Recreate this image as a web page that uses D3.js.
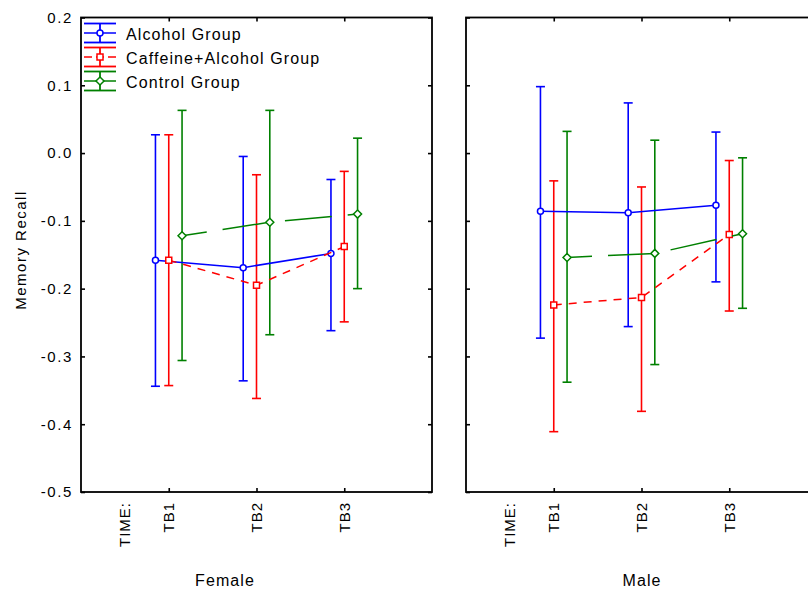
<!DOCTYPE HTML>
<html lang="en">
<head>
<meta charset="utf-8" />
<title>Memory Recall by Time</title>
<style>
  body { margin: 0; background: #fff; }
  text { font-family: "Liberation Sans", Arial, sans-serif; fill: #000; }
</style>
</head>
<body>
<script src="https://d3js.org/d3.v7.min.js"></script>
<script>
  // data
  const timeLabels = ["TB1", "TB2", "TB3"];
  const groups = ["Alcohol Group", "Caffeine+Alcohol Group", "Control Group"];
  const panels = ["Female", "Male"];
  const yTicks = [0.2, 0.1, 0.0, -0.1, -0.2, -0.3, -0.4, -0.5];

  // rows: alcohol, caffeine+alcohol, control
  const femaleMean  = [[-0.158, -0.169, -0.148], [-0.158, -0.195, -0.138], [-0.122, -0.102, -0.090]];
  const femaleUpper = [[0.027, -0.005, -0.039], [0.027, -0.032, -0.027], [0.063, 0.063, 0.022]];
  const femaleLower = [[-0.344, -0.336, -0.262], [-0.343, -0.362, -0.249], [-0.306, -0.268, -0.200]];
  const maleMean  = [[-0.086, -0.088, -0.077], [-0.224, -0.213, -0.120], [-0.154, -0.148, -0.119]];
  const maleUpper = [[0.098, 0.074, 0.031], [-0.041, -0.050, -0.011], [0.032, 0.019, -0.007]];
  const maleLower = [[-0.273, -0.256, -0.190], [-0.411, -0.381, -0.233], [-0.338, -0.312, -0.229]];

  const colors = ["#0000ff", "#ff0000", "#008000"];
  const dashes = [null, "8,7", "47,16"];
  const dashOffsets = [0, 0, 22];
  const groupShift = [-13.3, 0, 13.3];

  const width = 808, height = 590;
  const plotTop = 17.5, plotH = 474.5, plotW = 351;
  const panelLeft = [81, 466];
  const nameX = [225, 642];

  const svg = d3.select("body").append("svg")
      .attr("width", width)
      .attr("height", height);

  const x = d3.scaleLinear().domain([0, 4]).range([0, plotW]);
  const y = d3.scaleLinear().domain([-0.5, 0.2]).range([plotH, 0]);

  // marker paths
  const marker = [
    "M3,0A3,3 0 1,1 -3,0A3,3 0 1,1 3,0Z",
    "M-3,-3H3V3H-3Z",
    "M0,-4L4,0L0,4L-4,0Z"
  ];

  const fmt = d => d.toFixed(1);

  panels.forEach((pname, p) => {
    const means = p === 0 ? femaleMean : maleMean;
    const ups = p === 0 ? femaleUpper : maleUpper;
    const lows = p === 0 ? femaleLower : maleLower;

    const g = svg.append("g")
        .attr("transform", "translate(" + panelLeft[p] + "," + plotTop + ")");

    // ticks on all four sides, pointing inside
    const left = g.append("g")
        .call(d3.axisLeft(y).tickValues(yTicks).tickSizeInner(-4).tickSizeOuter(0)
              .tickPadding(8).tickFormat(fmt));
    g.append("g")
        .attr("transform", "translate(" + plotW + ",0)")
        .call(d3.axisRight(y).tickValues(yTicks).tickSizeInner(-4).tickSizeOuter(0)
              .tickFormat(""));
    g.append("g")
        .call(d3.axisTop(x).tickValues([1, 2, 3]).tickSizeInner(-4).tickSizeOuter(0)
              .tickFormat(""));
    g.append("g")
        .attr("transform", "translate(0," + plotH + ")")
        .call(d3.axisBottom(x).tickValues([1, 2, 3]).tickSizeInner(-4).tickSizeOuter(0)
              .tickFormat(""));

    g.selectAll(".domain").remove();
    g.selectAll(".tick line").attr("stroke", "#000").attr("stroke-width", 1.6);

    left.selectAll("text")
        .attr("font-size", "15px")
        .style("letter-spacing", "1.6px")
        .attr("fill", "#000");
    if (p === 1) left.selectAll("text").remove();

    // frame
    g.append("rect")
        .attr("width", plotW)
        .attr("height", plotH)
        .attr("fill", "none")
        .attr("stroke", "#000")
        .attr("stroke-width", 1.8);

    // x labels
    const xLabels = ["TIME:"].concat(timeLabels);
    const xPos = [0.5, 1, 2, 3];
    g.selectAll(".xlab")
        .data(xLabels)
        .enter()
        .append("text")
        .attr("class", "xlab")
        .attr("transform", (d, i) => "translate(" + (x(xPos[i]) + 5.5) + "," + (plotH + 10) + ")rotate(-90)")
        .attr("text-anchor", "end")
        .attr("font-size", "15px")
        .style("letter-spacing", "1px")
        .text(d => d);

    svg.append("text")
        .attr("x", nameX[p])
        .attr("y", 586)
        .attr("text-anchor", "middle")
        .attr("font-size", "16px")
        .style("letter-spacing", "1.1px")
        .text(pname);

    // error bars
    groups.forEach((grp, k) => {
      const gx = i => x(i + 1) + groupShift[k];
      const bars = g.append("g").attr("stroke", colors[k]).attr("stroke-width", 1.6);
      timeLabels.forEach((t, i) => {
        bars.append("line")
            .attr("x1", gx(i)).attr("x2", gx(i))
            .attr("y1", y(ups[k][i])).attr("y2", y(lows[k][i]));
        bars.append("line")
            .attr("x1", gx(i) - 4.5).attr("x2", gx(i) + 4.5)
            .attr("y1", y(ups[k][i])).attr("y2", y(ups[k][i]));
        bars.append("line")
            .attr("x1", gx(i) - 4.5).attr("x2", gx(i) + 4.5)
            .attr("y1", y(lows[k][i])).attr("y2", y(lows[k][i]));
      });
    });

    // mean lines and markers
    groups.forEach((grp, k) => {
      const gx = i => x(i + 1) + groupShift[k];
      const line = d3.line()
          .x((d, i) => gx(i))
          .y(d => y(d));
      g.append("path")
          .datum(means[k])
          .attr("d", line)
          .attr("fill", "none")
          .attr("stroke", colors[k])
          .attr("stroke-width", 1.5)
          .attr("stroke-dasharray", dashes[k])
          .attr("stroke-dashoffset", dashOffsets[k]);
      g.selectAll(".mk" + k)
          .data(means[k])
          .enter()
          .append("path")
          .attr("class", "mk" + k)
          .attr("transform", (d, i) => "translate(" + gx(i) + "," + y(d) + ")")
          .attr("d", marker[k])
          .attr("fill", "#fff")
          .attr("stroke", colors[k])
          .attr("stroke-width", 1.5);
    });
  });

  // y axis title
  svg.append("text")
      .attr("transform", "translate(26,250)rotate(-90)")
      .attr("text-anchor", "middle")
      .attr("font-size", "15px")
      .style("letter-spacing", "1.5px")
      .text("Memory Recall");

  // legend
  const legRows = [33, 57, 81];
  groups.forEach((grp, k) => {
    const lg = svg.append("g")
        .attr("transform", "translate(100," + legRows[k] + ")");
    const lgLines = lg.append("g").attr("stroke", colors[k]).attr("stroke-width", 1.8);
    lgLines.append("line").attr("x1", -16).attr("x2", 16).attr("y1", -9.5).attr("y2", -9.5);
    lgLines.append("line").attr("x1", -16).attr("x2", 16).attr("y1", 9.5).attr("y2", 9.5);
    lgLines.append("line").attr("x1", 0).attr("x2", 0).attr("y1", -9.5).attr("y2", 9.5);
    lg.append("line")
        .attr("x1", -16).attr("x2", 16)
        .attr("stroke", colors[k])
        .attr("stroke-width", 1.5)
        .attr("stroke-dasharray", k === 1 ? "8,4" : null);
    lg.append("path")
        .attr("d", marker[k])
        .attr("fill", "#fff")
        .attr("stroke", colors[k])
        .attr("stroke-width", 1.5);
    lg.append("text")
        .attr("x", 26)
        .attr("y", 6.5)
        .attr("font-size", "16px")
        .style("letter-spacing", "1.1px")
        .text(grp);
  });
</script>
</body>
</html>
